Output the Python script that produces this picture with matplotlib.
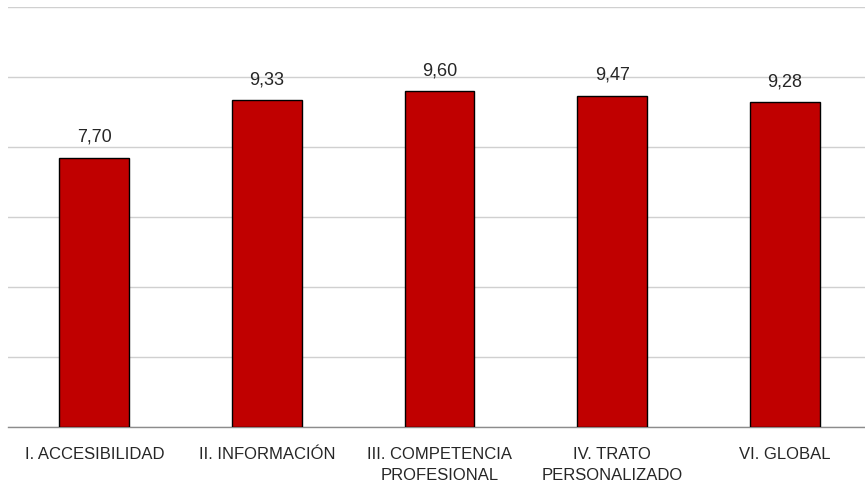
import matplotlib
matplotlib.use("Agg")
import matplotlib.pyplot as plt
import numpy as np

# Puntuaciones medias por dimensión
categorias = ["I. ACCESIBILIDAD", "II. INFORMACIÓN", "III. COMPETENCIA\nPROFESIONAL",
              "IV. TRATO\nPERSONALIZADO", "VI. GLOBAL"]
valores = [7.70, 9.33, 9.60, 9.47, 9.28]

plt.rcParams['font.family'] = ['Liberation Sans', 'DejaVu Sans']

fig = plt.figure(figsize=(8.65, 4.85), dpi=100)
ax = fig.add_axes([8 / 865, 57 / 485, 863 / 865, 420 / 485])

x = np.arange(len(categorias))
ax.bar(x, valores, width=0.405, color='#C00000', edgecolor='black', linewidth=1.0, zorder=3)

# etiquetas de valor con coma decimal
for xi, v in zip(x, valores):
    ax.text(xi, v + 0.36, f"{v:.2f}".replace('.', ','), ha='center', va='bottom',
            fontsize=13, color='#262626')

ax.set_xlim(-0.5, len(categorias) - 0.5)
ax.set_ylim(0, 12)
ax.set_yticks(np.arange(0, 13, 2))
ax.yaxis.grid(True, color='#d0d0d0', linewidth=1.0, zorder=0)
ax.tick_params(axis='y', left=False, labelleft=False)
ax.tick_params(axis='x', length=0, pad=14)
ax.set_xticks(x)
ax.set_xticklabels(categorias, fontsize=12, color='#262626', linespacing=1.45)

for s in ['top', 'right', 'left']:
    ax.spines[s].set_visible(False)
ax.spines['bottom'].set_color('#8c8c8c')
ax.spines['bottom'].set_linewidth(1.0)

fig.savefig('out.png', dpi=100)
